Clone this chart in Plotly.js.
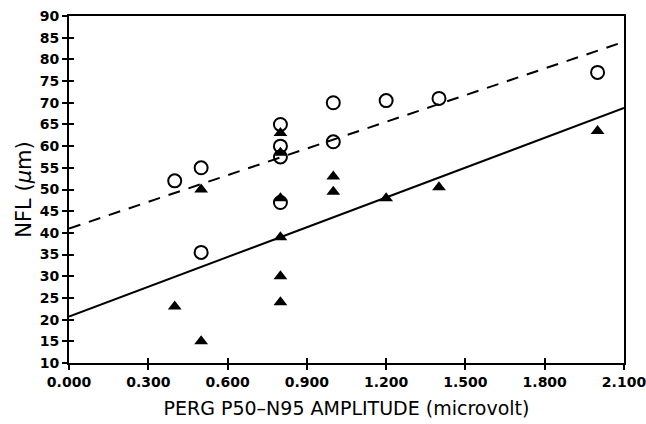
<!DOCTYPE html>
<html>
<head>
<meta charset="utf-8">
<script src="https://cdn.plot.ly/plotly-3.0.1.min.js"></script>
<style>html,body{margin:0;padding:0;background:#fff;}#chart{width:646px;height:424px;}</style>
</head>
<body>
<div id="chart"></div>
<script>
// Open circles group
const circleX = [0.4, 0.5, 0.5, 0.8, 0.8, 0.8, 0.8, 1.0, 1.0, 1.2, 1.4, 2.0];
const circleY = [52, 55, 35.5, 65, 60, 57.5, 47, 70, 61, 70.5, 71, 77];
// Filled triangles group
const triX = [0.4, 0.5, 0.5, 0.8, 0.8, 0.8, 0.8, 0.8, 0.8, 1.0, 1.0, 1.2, 1.4, 2.0];
const triY = [23, 15, 50, 63, 58.5, 48, 39, 30, 24, 53, 49.5, 48, 50.5, 63.5];
// Regression lines: [intercept, slope]
const dashedFit = [41.0, 20.5];
const solidFit = [20.7, 22.9];
const fitRange = [0, 2.1];
const xTicks = [0, 0.3, 0.6, 0.9, 1.2, 1.5, 1.8, 2.1];
const xTickText = ['0.000', '0.300', '0.600', '0.900', '1.200', '1.500', '1.800', '2.100'];
const yTicks = [10, 15, 20, 25, 30, 35, 40, 45, 50, 55, 60, 65, 70, 75, 80, 85, 90];

const fitY = f => fitRange.map(x => f[0] + f[1] * x);

const traces = [
  {x: fitRange, y: fitY(dashedFit), mode: 'lines', line: {color: '#000', width: 2, dash: '12px,9px'}, hoverinfo: 'skip'},
  {x: fitRange, y: fitY(solidFit), mode: 'lines', line: {color: '#000', width: 2}, hoverinfo: 'skip'},
  {x: circleX, y: circleY, mode: 'markers', marker: {symbol: 'circle-open', size: 13, color: '#000', line: {width: 2, color: '#000'}}},
  {x: triX, y: triY, mode: 'markers', marker: {symbol: 'triangle-up', size: 12, color: '#000'}}
];

const tickFont = {family: 'DejaVu Sans, sans-serif', size: 14, color: '#000', weight: 'bold'};
const layout = {
  width: 646, height: 424,
  margin: {l: 69, r: 22, t: 16, b: 61},
  paper_bgcolor: '#fff', plot_bgcolor: '#fff',
  showlegend: false,
  xaxis: {
    range: [0, 2.1], tickmode: 'array', tickvals: xTicks, ticktext: xTickText, ticklabeloverflow: 'allow',
    showgrid: false, zeroline: false, showline: true, linecolor: '#000', linewidth: 2, mirror: true,
    ticks: 'outside', ticklen: 5, tickwidth: 2, tickcolor: '#000', tickfont: tickFont,
    title: {text: 'PERG P50\u2013N95 AMPLITUDE (microvolt)', font: {family: 'DejaVu Sans, sans-serif', size: 19, color: '#000'}, standoff: 13}
  },
  yaxis: {
    range: [10, 90], tickmode: 'array', tickvals: yTicks,
    showgrid: false, zeroline: false, showline: true, linecolor: '#000', linewidth: 2, mirror: true,
    ticks: 'outside', ticklen: 5, tickwidth: 2, tickcolor: '#000', tickfont: tickFont,
    title: {text: 'NFL (<i>\u03bc</i>m)', font: {family: 'DejaVu Sans, sans-serif', size: 21, color: '#000'}, standoff: 2}
  },
  xaxis2: {overlaying: 'x', matches: 'x', range: [0, 2.1], tickmode: 'array', tickvals: xTicks, showticklabels: false, ticks: 'inside', ticklen: 5, tickwidth: 2, tickcolor: '#000', showgrid: false, zeroline: false, showline: false},
  yaxis2: {overlaying: 'y', matches: 'y', range: [10, 90], tickmode: 'array', tickvals: yTicks, showticklabels: false, ticks: 'inside', ticklen: 5, tickwidth: 2, tickcolor: '#000', showgrid: false, zeroline: false, showline: false}
};
traces.push({x: [], y: [], xaxis: 'x2', yaxis: 'y2', mode: 'markers', hoverinfo: 'skip'});

Plotly.newPlot('chart', traces, layout, {staticPlot: true, displayModeBar: false});
</script>
</body>
</html>
